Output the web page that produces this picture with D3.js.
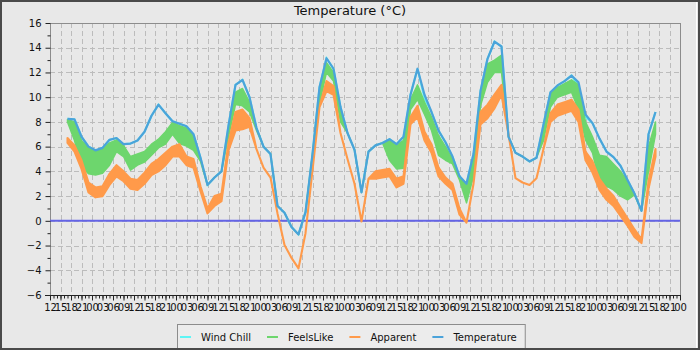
<!DOCTYPE html>
<html><head><meta charset="utf-8">
<script src="https://cdn.jsdelivr.net/npm/d3@7"></script>
<style>
html,body{margin:0;padding:0;background:#e8e8e8;}
svg{display:block;font-family:"DejaVu Sans",sans-serif;}
</style></head><body>
<svg id="chart" width="700" height="350"></svg>
<script>
const chartTitle = "Temperature (°C)";
const seriesNames = ["Wind Chill", "FeelsLike", "Apparent", "Temperature"];
const seriesColors = ["#5ef5f5", "#6dd66d", "#ff9a4a", "#4ba3da"];
const startTime = Date.UTC(2023, 0, 1, 12);   // axis starts at 12:00
const spanHours = 180;
const firstHour = 5, stepHours = 2;            // samples every 2 h from 17:00
const yTickValues = [-6, -4, -2, 0, 2, 4, 6, 8, 10, 12, 14, 16];

const temperature = [8.25, 8.2, 6.8, 6.0, 5.7, 5.9, 6.55, 6.7, 6.2, 6.25,
  6.5, 7.2, 8.5, 9.4, 8.7, 8.05, 7.85, 7.65, 7.0, 5.1,
  2.9, 3.5, 4.0, 7.7, 11.0, 11.4, 10.0, 7.5, 6.0, 5.4,
  1.2, 0.65, -0.5, -1.1, 0.7, 5.4, 10.8, 13.15, 12.3, 9.2,
  7.1, 5.75, 2.3, 5.6, 6.1, 6.3, 6.6, 6.2, 6.8, 10.2,
  12.3, 10.2, 8.8, 7.3, 6.35, 5.2, 3.6, 3.0, 5.4, 10.5,
  13.1, 14.5, 14.1, 6.8, 5.5, 5.2, 4.8, 5.1, 7.8, 10.4,
  10.95, 11.3, 11.75, 11.2, 8.6, 7.9, 6.65, 5.6, 5.15, 4.45,
  3.3, 2.2, 0.8, 7.0, 8.8];
const windChill = [8.25, 8.2, 6.8, 6.0, 5.7, 5.9, 6.55, 6.7, 6.2, 6.25,
  6.5, 7.2, 8.5, 9.4, 8.7, 8.05, 7.85, 7.65, 7.0, 5.1,
  2.9, 3.5, 4.0, 7.7, 11.0, 11.4, 10.0, 7.5, 6.0, 5.4,
  1.2, 0.65, -0.5, -1.1, 0.7, 5.4, 10.8, 13.15, 12.3, 9.2,
  7.1, 5.75, 2.3, 5.6, 6.1, 6.3, 6.6, 6.2, 6.8, 10.2,
  12.3, 9.9, 8.8, 7.3, 6.35, 5.2, 3.6, 3.0, 5.4, 10.5,
  13.1, 14.5, 14.1, 6.8, 5.5, 5.2, 4.8, 5.1, 7.8, 10.4,
  10.95, 11.3, 11.75, 10.9, 8.4, 7.9, 6.65, 5.6, 5.15, 4.45,
  3.3, 2.2, 0.8, 7.0, 8.8];
const feelsHigh = [8.2, 8.0, 6.5, 5.95, 5.6, 5.85, 6.3, 6.55, 6.1, 5.2,
  5.4, 5.6, 6.2, 6.6, 7.2, 7.95, 7.7, 7.5, 6.9, 5.0,
  2.9, 3.5, 4.0, 7.4, 10.4, 10.7, 9.6, 7.5, 6.0, 5.4,
  1.2, 0.65, -0.5, -1.1, 0.7, 5.4, 10.5, 12.8, 12.0, 9.0,
  7.1, 5.75, 2.3, 5.6, 6.1, 6.3, 6.5, 6.1, 6.5, 9.8,
  11.0, 9.6, 8.4, 6.9, 6.0, 5.0, 3.5, 2.9, 5.2, 10.3,
  12.7, 13.0, 13.4, 6.8, 5.5, 5.2, 4.8, 5.1, 7.6, 10.3,
  10.8, 11.1, 11.4, 11.0, 8.0, 6.8, 5.3, 5.2, 4.6, 4.0,
  3.2, 2.2, 0.8, 6.0, 8.0];
const feelsLow = [8.0, 6.5, 4.4, 3.8, 3.7, 3.85, 4.5, 5.6, 5.2, 4.1,
  4.5, 4.75, 5.3, 5.9, 6.2, 7.0, 6.25, 6.05, 5.7, 4.8,
  2.9, 3.5, 4.0, 6.8, 9.4, 9.3, 8.8, 7.3, 6.0, 5.4,
  1.2, 0.65, -0.5, -1.1, 0.7, 5.4, 9.5, 12.0, 11.3, 8.0,
  7.1, 5.75, 2.3, 5.6, 6.1, 6.3, 4.9, 4.2, 4.25, 9.0,
  9.8, 8.6, 7.3, 5.3, 4.9, 4.6, 3.3, 1.45, 3.6, 9.3,
  11.2, 12.0, 12.0, 6.8, 5.5, 5.2, 4.8, 5.1, 6.5, 9.2,
  10.0, 10.2, 10.4, 9.0, 6.55, 5.5, 3.1, 2.8, 2.5, 2.0,
  1.7, 2.1, 0.8, 4.0, 7.0];
const apparentHigh = [6.7, 6.1, 4.9, 3.1, 2.7, 2.8, 3.8, 4.5, 4.0, 3.4,
  3.3, 3.9, 4.6, 5.0, 5.5, 6.0, 6.2, 5.2, 5.0, 2.8,
  1.0, 2.0, 2.2, 6.3, 8.8, 9.0, 8.3, 5.8, 4.3, 3.5,
  0.6, -1.95, -3.0, -3.85, -1.0, 4.1, 9.2, 11.3, 10.9, 7.1,
  5.0, 3.0, -0.05, 3.4, 4.0, 4.1, 4.2, 3.4, 3.6, 8.4,
  9.3, 7.2, 6.2, 4.3, 3.5, 3.0, 1.0, -0.15, 3.0, 8.8,
  9.4, 10.2, 11.0, 7.0, 3.45, 3.1, 2.9, 3.45, 5.8, 8.7,
  9.4, 9.6, 9.8, 9.0, 5.6, 4.8, 3.4, 2.6, 2.0, 1.1,
  0.2, -0.7, -1.5, 3.2, 5.8];
const apparentLow = [6.3, 5.6, 4.2, 2.3, 1.9, 2.0, 2.9, 3.6, 3.2, 2.6,
  2.5, 3.0, 3.7, 4.0, 4.5, 5.2, 5.2, 4.5, 4.3, 2.4,
  0.6, 1.2, 1.6, 5.7, 7.3, 7.4, 7.6, 5.8, 4.3, 3.5,
  0.6, -1.95, -3.0, -3.85, -1.0, 4.1, 9.2, 10.5, 10.2, 7.1,
  5.0, 3.0, -0.05, 3.4, 3.4, 3.5, 3.6, 2.7, 3.0, 7.8,
  8.4, 6.5, 5.5, 3.6, 3.0, 2.5, 0.5, -0.15, 3.0, 7.8,
  8.3, 9.1, 10.2, 7.0, 3.45, 3.1, 2.9, 3.45, 5.8, 8.0,
  8.5, 8.7, 8.9, 8.0, 4.9, 3.9, 2.5, 1.7, 1.2, 0.4,
  -0.4, -1.3, -1.8, 2.6, 5.2];

const W = 700, H = 350;
const M = {left: 50, right: 680, top: 23, bottom: 295};
const svg = d3.select("#chart");

const times = temperature.map((_, i) => new Date(startTime + (firstHour + stepHours * i) * 3600e3));
const x = d3.scaleUtc().domain([new Date(startTime), new Date(startTime + spanHours * 3600e3)]).range([M.left, M.right]);
const y = d3.scaleLinear().domain([-6, 16]).range([M.bottom, M.top]);

svg.append("rect").attr("x", 0).attr("y", 0).attr("width", W).attr("height", H).attr("fill", "#e8e8e8");

// grid
const grid = svg.append("g").attr("stroke", "#bcbcbc").attr("stroke-width", 1).attr("stroke-dasharray", "5,3");
const xGridTicks = d3.utcHour.every(3).range(x.domain()[0], x.domain()[1]).slice(1);
grid.selectAll("line.v").data(xGridTicks).join("line")
  .attr("x1", d => Math.round(x(d)) + 0.5).attr("x2", d => Math.round(x(d)) + 0.5)
  .attr("y1", M.top).attr("y2", M.bottom);
grid.selectAll("line.h").data(yTickValues.filter(v => v > -6 && v < 16)).join("line")
  .attr("y1", d => Math.round(y(d)) + 0.5).attr("y2", d => Math.round(y(d)) + 0.5)
  .attr("x1", M.left).attr("x2", M.right);

// plot frame
svg.append("rect").attr("x", M.left + 0.5).attr("y", M.top + 0.5)
  .attr("width", M.right - M.left).attr("height", M.bottom - M.top)
  .attr("fill", "none").attr("stroke", "#8c8c8c").attr("stroke-width", 1);

// zero reference line
svg.append("line").attr("x1", M.left).attr("x2", M.right)
  .attr("y1", y(0)).attr("y2", y(0)).attr("stroke", "#6464e6").attr("stroke-width", 2);

// series
const line = vals => d3.line().x((d, i) => x(times[i])).y(d => y(d))(vals);
const band = (lo, hi) => d3.area().x((d, i) => x(times[i])).y0((d, i) => y(lo[i])).y1((d, i) => y(hi[i]))(hi);
svg.append("path").attr("d", line(windChill)).attr("fill", "none")
  .attr("stroke", seriesColors[0]).attr("stroke-width", 2);
svg.append("path").attr("d", band(feelsLow, feelsHigh)).attr("fill", seriesColors[1])
  .attr("stroke", seriesColors[1]).attr("stroke-width", 1.5).attr("stroke-linejoin", "round");
svg.append("path").attr("d", band(apparentLow, apparentHigh)).attr("fill", seriesColors[2])
  .attr("stroke", seriesColors[2]).attr("stroke-width", 2.1).attr("stroke-linejoin", "round");
svg.append("path").attr("d", line(temperature)).attr("fill", "none")
  .attr("stroke", seriesColors[3]).attr("stroke-width", 2.2).attr("stroke-linejoin", "round");

// axes
const yAxis = svg.append("g").attr("transform", `translate(${M.left + 0.5},0)`)
  .call(d3.axisLeft(y).tickValues(yTickValues).tickSize(5).tickPadding(4));
const yMinor = svg.append("g").attr("transform", `translate(${M.left + 0.5},0)`)
  .call(d3.axisLeft(y).tickValues(d3.range(-5, 16, 2)).tickSize(3).tickFormat(""));
const xAxis = svg.append("g").attr("transform", `translate(0,${M.bottom + 0.5})`)
  .call(d3.axisBottom(x).ticks(d3.utcHour.every(3)).tickFormat(d3.utcFormat("%H")).tickSize(5).tickPadding(3));
const xMinor = svg.append("g").attr("transform", `translate(0,${M.bottom + 0.5})`)
  .call(d3.axisBottom(x).ticks(d3.utcHour.every(1)).tickFormat("").tickSize(3));
[yAxis, yMinor, xAxis, xMinor].forEach(g => {
  g.select(".domain").remove();
  g.selectAll(".tick line").attr("stroke", "#222");
  g.selectAll("text").attr("fill", "#111").style("font-size", "10px").style("font-family", "DejaVu Sans");
});
svg.append("line").attr("x1", M.left - 5).attr("x2", M.right + 1).attr("y1", M.bottom + 0.5).attr("y2", M.bottom + 0.5).attr("stroke", "#222");

// title
svg.append("text").attr("x", W / 2).attr("y", 15).attr("text-anchor", "middle")
  .style("font-size", "13px").attr("fill", "#111").text(chartTitle);

// legend
const leg = svg.append("g");
let cx = 0, lastEnd = 0;
seriesNames.forEach((name, i) => {
  const g = leg.append("g");
  g.append("line").attr("x1", cx + 3).attr("x2", cx + 14).attr("y1", 337).attr("y2", 337)
    .attr("stroke", seriesColors[i]).attr("stroke-width", 2);
  const t = g.append("text").attr("x", cx + 24).attr("y", 341).style("font-size", "10px")
    .attr("fill", "#111").text(name);
  lastEnd = cx + 24 + t.node().getComputedTextLength();
  cx = lastEnd + 13;
});
const legW = lastEnd + 8;
const legX = Math.round(350.5 - legW / 2);
leg.insert("rect", ":first-child").attr("x", 0.5).attr("y", 324.5).attr("width", legW).attr("height", 30)
  .attr("fill", "#ececec").attr("stroke", "#8c8c8c");
leg.attr("transform", `translate(${legX},0)`);

// outer border
svg.append("rect").attr("x", 1).attr("y", 1).attr("width", W - 2).attr("height", H - 2)
  .attr("fill", "none").attr("stroke", "#4a4a4a").attr("stroke-width", 2);
svg.append("line").attr("x1", W - 3.5).attr("x2", W - 3.5).attr("y1", 2).attr("y2", H - 2).attr("stroke", "#ffffff").attr("stroke-width", 1);
</script>
</body></html>
